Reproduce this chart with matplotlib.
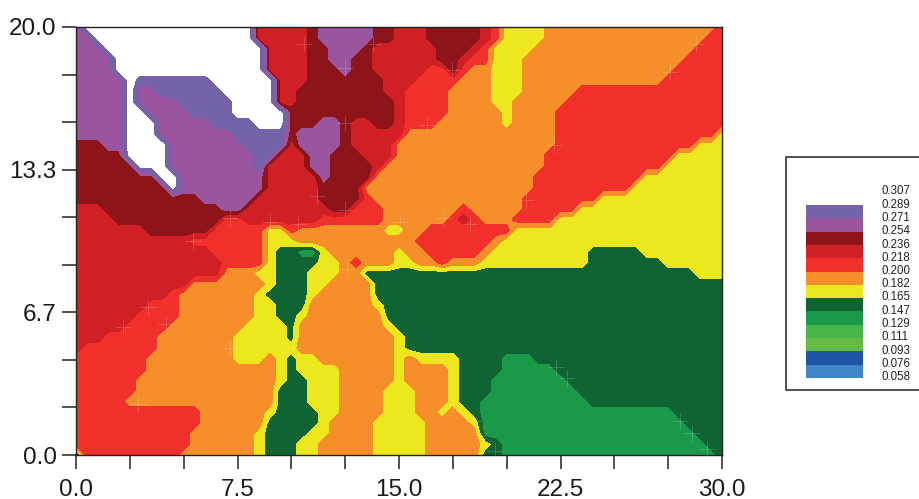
from matplotlib import pyplot as plt
from matplotlib.patches import Rectangle
import numpy as np

plt.rcParams['font.family'] = ['Liberation Sans', 'DejaVu Sans']

levels = [0.076, 0.093, 0.111, 0.129, 0.147, 0.165, 0.182, 0.200, 0.218, 0.236, 0.254, 0.271, 0.289, 0.307]
colors = ['#3f86c6', '#1f55a5', '#66bb46', '#48b549', '#1a9a48', '#106332', '#ede71d',
          '#f68f2a', '#f1302b', '#d11f26', '#8d1418', '#9b549e', '#7563a9']
legend_labels = ['0.307', '0.289', '0.271', '0.254', '0.236', '0.218', '0.200', '0.182',
                 '0.165', '0.147', '0.129', '0.111', '0.093', '0.076', '0.058']
x_ticks = [0, 7.5, 15, 22.5, 30]
y_labels = ['0.0', '6.7', '13.3', '20.0']

# class value of each letter, read against the legend
class_values = {'W': 0.320, 'V': 0.298, 'P': 0.280, 'D': 0.2625, 'C': 0.245, 'R': 0.227,
                'O': 0.209, 'Y': 0.191, 'G': 0.1735, 'M': 0.156}

# one row per y from 20 down to 0 in steps of 0.5
# "W16" = class W up to column 16, columns are x in steps of 0.5
rows = [
    'P0 W16 C21 D22 P27 D29 C32 D37 C38 R39 Y43 O59 R60',
    'P1 W16 C21 D22 P27 D29 C32 D37 C38 R39 Y43 O58 R60',
    'P2 W17 C21 D23 P26 D27 C33 D36 C37 R38 Y42 O57 R60',
    'P3 W17 C21 D23 P25 D27 C33 D35 C36 R38 Y41 O56 R60',
    'P3 W17 C21 D24 P25 D27 C32 R34 D35 R36 O38 Y41 O55 R60',
    'P4 W5 V12 W18 C21 D28 C31 R35 O38 Y41 O54 R60',
    'P4 W5 P7 V13 W18 C20 D28 C30 R34 O38 Y41 O46 R60',
    'P4 W5 P9 V14 W18 C20 D29 C30 R34 O38 Y40 O45 R60',
    'P4 W6 P10 V14 W19 D29 C30 R34 O39 Y40 O44 R60',
    'P4 W7 P12 V16 W19 D22 P24 D25 C27 D29 C30 R33 O39 Y40 O44 R60',
    'P4 W7 P14 V19 D20 P24 D25 C30 O44 R59 Y60',
    'D2 P4 W8 P15 V19 C20 P24 D25 C29 O44 R57 Y60',
    'D4 W8 P16 V18 C21 P23 D26 C29 O43 R55 Y60',
    'D5 W8 P16 V17 C21 P23 D27 C28 O43 R54 Y60',
    'D7 W9 P17 C22 P23 D27 O42 R52 Y60',
    'D8 W9 P17 C22 D26 O42 R51 Y60',
    'D11 P16 C22 D26 R27 O41 R48 Y60',
    'C2 D13 P15 C23 D25 R28 O35 R36 O41 R46 Y60',
    'C3 D13 R15 C22 R28 O34 R35 C36 R37 O40 R44 Y60',
    'C6 D12 R17 Y19 R20 O28 Y30 O32 R40 Y60',
    'C10 R17 Y20 O31 R38 O39 Y60',
    'C12 R17 Y18 G20 M22 Y23 O29 Y30 O32 R37 O38 Y47 G52 Y60',
    'C13 R17 Y18 G22 Y24 O25 R26 O29 Y31 O33 R34 O37 Y47 G54 Y60',
    'C13 O16 Y18 G21 Y24 O26 G57 Y60',
    'C10 O17 Y18 G21 Y23 O27 G60',
    'C8 R9 O16 Y17 G21 Y22 O27 G60',
    'C6 R9 O16 Y18 G21 O27 Y28 G60',
    'C5 R9 O16 Y18 G20 Y21 O28 G60',
    'C4 R8 O15 Y19 G20 O28 Y29 G60',
    'C2 R7 O14 Y19 G20 O29 Y30 G60',
    'C0 R7 O14 Y20 O29 Y30 G60',
    'R6 O14 Y17 O18 Y19 G20 Y22 O29 Y30 O31 Y35 G39 M42 G60',
    'R6 O18 Y19 G20 Y24 O29 Y30 O34 Y35 G39 M44 G60',
    'R5 O18 Y19 G21 Y24 O29 Y30 O34 Y35 G38 M45 G60',
    'R5 O18 G21 Y24 O28 Y31 O34 Y35 G38 M46 G60',
    'R4 O18 G21 Y24 O28 Y31 O34 Y35 G37 M47 G60',
    'R11 O17 Y18 G22 Y24 O28 Y31 O33 Y34 O35 Y36 G37 M55 G60',
    'R11 O17 G22 Y23 O27 Y32 O36 Y37 M56 G60',
    'R10 O16 Y17 G21 Y23 O27 Y32 O37 M57 G60',
    'R10 O16 Y17 G20 Y22 O27 Y32 O37 Y38 G39 M58 G60',
    'M0 R9 O16 Y17 G20 Y22 O27 Y32 O37 G39 M59 G60',
]

# faint sample point crosses
cross_x = [10.6, 12.5, 13.8, 12.5, 7.15, 9.0, 10.3, 11.2, 12.5, 5.45, 17.45, 16.3, 15.05, 17.1, 18.3,
           22.2, 20.9, 22.2, 28.8, 27.6, 3.35, 2.2, 4.2, 2.9, 7.15, 10.1, 12.6, 17.5, 18.45, 22.3,
           22.8, 28.05, 28.6, 29.3, 19.45]
cross_y = [19.2, 18.1, 19.2, 15.5, 11.06, 10.9, 10.8, 12.1, 11.45, 10.0, 18.0, 15.4, 10.9, 11.06, 10.8,
           14.5, 11.9, 11.0, 19.2, 17.9, 6.93, 6.0, 6.1, 2.4, 5.0, 5.0, 8.7, 2.4, 1.6, 4.1,
           3.6, 1.6, 1.05, 0.3, 0.2]


def decode_row(row):
    values = []
    for run in row.split():
        end = int(run[1:])
        values += [class_values[run[0]]] * (end + 1 - len(values))
    return values


W, H = 919, 499
Z = np.array([decode_row(r) for r in rows])[::-1]
x = np.linspace(0, 30, Z.shape[1])
y = np.linspace(0, 20, Z.shape[0])

fig = plt.figure(figsize=(W / 100, H / 100), dpi=100)
ax = fig.add_axes([76 / W, 1 - 455 / H, 646 / W, 428 / H])
ax.contourf(x, y, Z, levels=levels, colors=colors)
ax.scatter(cross_x, cross_y, marker='+', s=130, linewidths=0.6, color='white', alpha=0.2, zorder=3)

ax.set_xlim(0, 30)
ax.set_ylim(0, 20)
ax.set_xticks(x_ticks)
ax.set_xticks(np.arange(0, 30.1, 2.5), minor=True)
ax.set_yticks([0, 20 / 3, 40 / 3, 20])
ax.set_yticks(np.arange(10) * 20 / 9, minor=True)
ax.set_xticklabels(['0.0', '7.5', '15.0', '22.5', '30.0'])
ax.set_yticklabels(y_labels)
ax.tick_params(which='both', length=10, width=1.1, color='#222222')
ax.tick_params(axis='x', labelsize=17.5, pad=7, labelcolor='#1a1a1a')
ax.tick_params(axis='y', labelsize=17.5, pad=4, labelcolor='#1a1a1a')
for s in ax.spines.values():
    s.set_linewidth(1.0)
    s.set_color('#222222')

# legend box runs off the right edge
fig.add_artist(Rectangle((786 / W, 1 - 390 / H), 150 / W, 233 / H, transform=fig.transFigure,
                         facecolor='white', edgecolor='#222222', linewidth=1.1, zorder=-1))
lax = fig.add_axes([806 / W, 1 - 378 / H, 57 / W, 173 / H])
lax.bar(np.zeros(len(colors)), np.ones(len(colors)), bottom=np.arange(len(colors)), width=1, color=colors)
lax.set_xlim(-0.5, 0.5)
lax.set_ylim(0, len(colors))
lax.axis('off')
label_y = 191.5
for lab in legend_labels:
    fig.text(881 / W, 1 - label_y / H, lab, fontsize=8.3, va='center', ha='left', color='#222222')
    label_y += 13.25

plt.savefig('out.png', dpi=100)
